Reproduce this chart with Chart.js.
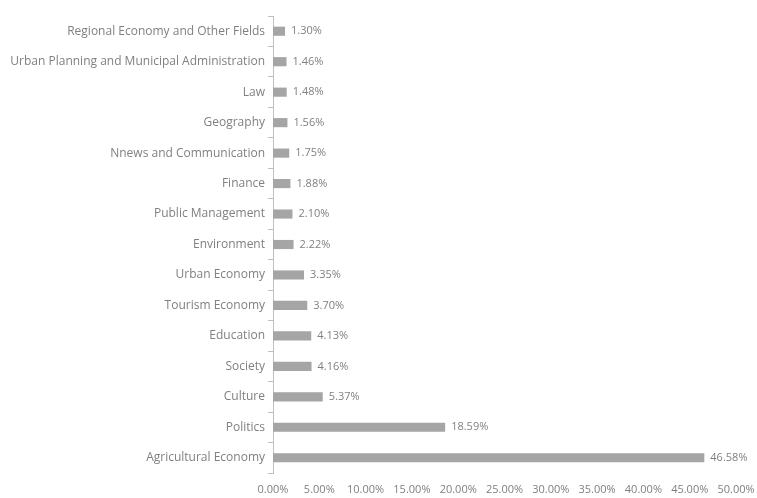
<!DOCTYPE html>
<html>
<head>
<meta charset="utf-8">
<title>Share by field</title>
<script src="https://cdn.jsdelivr.net/npm/chart.js@4/dist/chart.umd.min.js"></script>
<style>
  html, body { margin: 0; padding: 0; background: #fff; }
  #wrap { width: 757px; height: 498px; }
</style>
</head>
<body>
<div id="wrap"><canvas id="chart" width="757" height="498"></canvas></div>
<script>
// Fields, listed top to bottom
const fields = [
  'Regional Economy and Other Fields',
  'Urban Planning and Municipal Administration',
  'Law',
  'Geography',
  'Nnews and Communication',
  'Finance',
  'Public Management',
  'Environment',
  'Urban Economy',
  'Tourism Economy',
  'Education',
  'Society',
  'Culture',
  'Politics',
  'Agricultural Economy'
];

// Share of each field, in percent
const shares = [1.30, 1.46, 1.48, 1.56, 1.75, 1.88, 2.10, 2.22, 3.35, 3.70, 4.13, 4.16, 5.37, 18.59, 46.58];

// Value axis ticks
const axisMin = 0;
const axisMax = 50;
const axisStep = 5;

const textColor = '#808080';
const lineColor = '#bfbfbf';
const fontFamily = '"Open Sans", Lato, sans-serif';

// Writes the percentage just past the end of each bar
const valueLabels = {
  id: 'valueLabels',
  afterDatasetsDraw(chart) {
    const ctx = chart.ctx;
    const meta = chart.getDatasetMeta(0);
    ctx.save();
    ctx.font = '11px ' + fontFamily;
    ctx.fillStyle = textColor;
    ctx.textAlign = 'left';
    ctx.textBaseline = 'middle';
    meta.data.forEach((bar, i) => {
      ctx.fillText(shares[i].toFixed(2) + '%', bar.x + 6, bar.y);
    });
    ctx.restore();
  }
};

new Chart(document.getElementById('chart'), {
  type: 'bar',
  data: {
    labels: fields,
    datasets: [{
      data: shares,
      backgroundColor: '#a5a5a5',
      borderWidth: 0,
      barPercentage: 0.3,
      categoryPercentage: 1
    }]
  },
  options: {
    indexAxis: 'y',
    responsive: false,
    animation: false,
    layout: { padding: { top: 16, right: 21, bottom: 0, left: 0 } },
    plugins: {
      legend: { display: false },
      tooltip: { enabled: false }
    },
    scales: {
      x: {
        min: axisMin,
        max: axisMax,
        afterFit(scale) {
          scale.height = 25;
          // let the last tick label run into the right margin
          scale.paddingRight = 0;
        },
        grid: { display: false, drawTicks: false },
        border: { display: false },
        ticks: {
          stepSize: axisStep,
          color: textColor,
          font: { family: fontFamily, size: 11 },
          padding: 10,
          maxRotation: 0,
          autoSkip: false,
          callback: v => v.toFixed(2) + '%'
        }
      },
      y: {
        afterFit(scale) { scale.width = 273; },
        grid: {
          drawOnChartArea: false,
          color: lineColor,
          tickLength: 5,
          offset: true
        },
        border: { display: true, color: lineColor, width: 1 },
        ticks: {
          color: textColor,
          font: { family: fontFamily, size: 12 },
          padding: 3
        }
      }
    }
  },
  plugins: [valueLabels]
});
</script>
</body>
</html>
